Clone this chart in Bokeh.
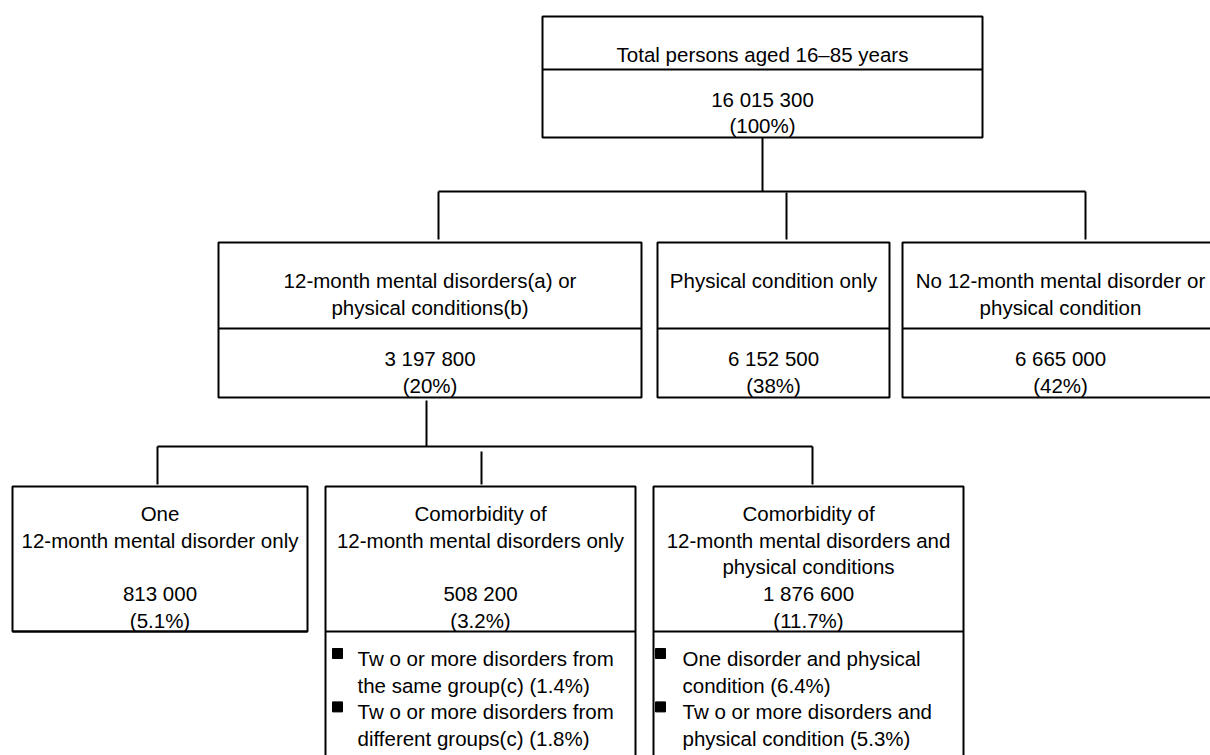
from bokeh.plotting import figure
from bokeh.models import Range1d
from bokeh.core.properties import value
from bokeh.embed import file_html
from bokeh.resources import INLINE

# ---------------- data ----------------
top_title = "Total persons aged 16–85 years"
top_count = 16015300
top_pct = 100

level1_titles = ["12-month mental disorders(a) or\nphysical conditions(b)",
                 "Physical condition only",
                 "No 12-month mental disorder or\nphysical condition"]
level1_counts = [3197800, 6152500, 6665000]
level1_pcts = [20, 38, 42]

level2_titles = ["One\n12-month mental disorder only\n",
                 "Comorbidity of\n12-month mental disorders only\n",
                 "Comorbidity of\n12-month mental disorders and\nphysical conditions"]
level2_counts = [813000, 508200, 1876600]
level2_pcts = [5.1, 3.2, 11.7]

detail_labels = [[],
                 ["Tw o or more disorders from\nthe same group(c)",
                  "Tw o or more disorders from\ndifferent groups(c)"],
                 ["One disorder and physical\ncondition",
                  "Tw o or more disorders and\nphysical condition"]]
detail_pcts = [[], [1.4, 1.8], [6.4, 5.3]]

# ---------------- layout (screen-like coordinates) ----------------
TOP = dict(x0=542, x1=982, y0=16, ydiv=69, y1=137, drop=762)
L1_BOX_X = [(218, 641), (657, 889), (902, 1222)]
L1_TEXT_X = [None, None, 1060]
L1_Y0, L1_DIV, L1_Y1 = 242, 328, 397
L1_BUS_Y = 191
L1_TAPS = [438, 786, 1085]
L1_TAP_END = 239
L1_DOWN_X, L1_DOWN_Y0 = 426, 400
L2_BUS_Y = 446
L2_BOX_X = [(12, 307), (325, 635), (653, 963)]
L2_TAPS = [157, 481, 812]
L2_TAP_START = [446, 451, 446]
L2_TAP_END = 484
L2_Y0, L2_DIV = 486, 631
L2_BOTTOM = [631, 770, 770]
BULLET_SQ_X = [None, 337, 660]
BULLET_TX_X = [None, 357, 682]

STEP = 26.7
FONT = value("Liberation Sans")
FSIZE = "20.5px"


def fmt_count(v):
    return format(v, ",").replace(",", " ")


def fmt_pct(v):
    return f"({v:g}%)"


W, H = 1210, 755
p = figure(width=W, height=H, output_backend="svg", toolbar_location=None,
           x_range=Range1d(0, W), y_range=Range1d(H, 0),
           min_border=0, outline_line_color=None, background_fill_color="white")
p.axis.visible = False
p.grid.visible = False

# ---------- boxes ----------
bx0, bx1, by0, by1 = [], [], [], []
seg = dict(x0=[], y0=[], x1=[], y1=[])


def add_seg(a, b, c, d):
    seg["x0"].append(a); seg["y0"].append(b); seg["x1"].append(c); seg["y1"].append(d)


bx0.append(TOP["x0"]); bx1.append(TOP["x1"]); by0.append(TOP["y0"]); by1.append(TOP["y1"])
add_seg(TOP["x0"], TOP["ydiv"], TOP["x1"], TOP["ydiv"])
for (a, b) in L1_BOX_X:
    bx0.append(a); bx1.append(b); by0.append(L1_Y0); by1.append(L1_Y1)
    add_seg(a, L1_DIV, b, L1_DIV)
for (a, b), bot in zip(L2_BOX_X, L2_BOTTOM):
    bx0.append(a); bx1.append(b); by0.append(L2_Y0); by1.append(bot)
    add_seg(a, L2_DIV, b, L2_DIV)

p.quad(left=bx0, right=bx1, top=by0, bottom=by1, fill_color="white",
       line_color="black", line_width=2)

# ---------- connectors ----------
add_seg(TOP["drop"], TOP["y1"], TOP["drop"], L1_BUS_Y)
add_seg(min(L1_TAPS), L1_BUS_Y, max(L1_TAPS), L1_BUS_Y)
for i, x in enumerate(L1_TAPS):
    add_seg(x, L1_BUS_Y + (1 if i == 1 else 0), x, L1_TAP_END)
add_seg(L1_DOWN_X, L1_DOWN_Y0, L1_DOWN_X, L2_BUS_Y)
add_seg(L2_TAPS[0], L2_BUS_Y, L2_TAPS[-1], L2_BUS_Y)
for x, ys in zip(L2_TAPS, L2_TAP_START):
    add_seg(x, ys, x, L2_TAP_END)
p.segment(x0="x0", y0="y0", x1="x1", y1="y1", source=seg, line_color="black", line_width=2)

# ---------- texts ----------
ct = dict(x=[], y=[], t=[])
lt = dict(x=[], y=[], t=[])


def add_lines(store, lines, x, y):
    for i, s in enumerate(lines):
        if s:
            store["x"].append(x); store["y"].append(y + i * STEP); store["t"].append(s)


add_lines(ct, [top_title], TOP["drop"], TOP["y0"] + 38)
add_lines(ct, [fmt_count(top_count), fmt_pct(top_pct)], TOP["drop"], TOP["ydiv"] + 29.5)

for (a, b), tx, title, cnt, pc in zip(L1_BOX_X, L1_TEXT_X, level1_titles, level1_counts, level1_pcts):
    mid = tx if tx is not None else (a + b) / 2
    add_lines(ct, title.split("\n"), mid, L1_Y0 + 38)
    add_lines(ct, [fmt_count(cnt), fmt_pct(pc)], mid, L1_DIV + 30)

for k, ((a, b), title, cnt, pc) in enumerate(zip(L2_BOX_X, level2_titles, level2_counts, level2_pcts)):
    mid = (a + b) / 2
    lines = title.split("\n") + [fmt_count(cnt), fmt_pct(pc)]
    add_lines(ct, lines, mid, L2_Y0 + 27)
    if detail_labels[k]:
        sq_x, sq_y = [], []
        row = 0
        for lab, dp in zip(detail_labels[k], detail_pcts[k]):
            blines = (lab + f" ({dp:g}%)").split("\n")
            sq_x.append(BULLET_SQ_X[k]); sq_y.append(L2_DIV + 27 + row * STEP - 5)
            add_lines(lt, blines, BULLET_TX_X[k], L2_DIV + 27 + row * STEP)
            row += len(blines)
        p.scatter(x=sq_x, y=sq_y, marker="square", size=10, fill_color="black", line_color="black")

p.text(x="x", y="y", text="t", source=ct, text_align="center", text_baseline="alphabetic",
       text_font=FONT, text_font_size=FSIZE, text_color="black")
p.text(x="x", y="y", text="t", source=lt, text_align="left", text_baseline="alphabetic",
       text_font=FONT, text_font_size=FSIZE, text_color="black")

open("out.html", "w").write(file_html(p, INLINE))
